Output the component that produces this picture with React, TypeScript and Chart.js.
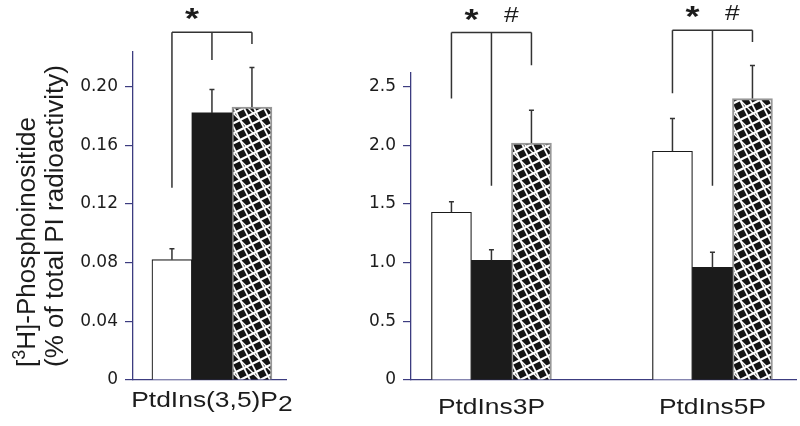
import React, { useEffect, useRef } from "react";
import { Chart, registerables } from "chart.js";

Chart.register(...registerables);

// ---------------- data ----------------
const seriesNames = ["Open bars", "Filled bars", "Hatched bars"];

const leftCategories = ["PtdIns(3,5)P2"];
const leftOpen = [0.082];
const leftOpenErr = [0.0075];
const leftFilled = [0.182];
const leftFilledErr = [0.016];
const leftHatched = [0.186];
const leftHatchedErr = [0.027];
const leftTicks = [0, 0.04, 0.08, 0.12, 0.16, 0.2];
const leftMax = 0.2235;

const rightCategories = ["PtdIns3P", "PtdIns5P"];
const rightOpen = [1.43, 1.95];
const rightOpenErr = [0.09, 0.28];
const rightFilled = [1.02, 0.96];
const rightFilledErr = [0.09, 0.13];
const rightHatched = [2.02, 2.4];
const rightHatchedErr = [0.28, 0.28];
const rightTicks = [0, 0.5, 1, 1.5, 2, 2.5];
const rightMax = 2.617;

// significance brackets (value units): bracket top, leg ends (open, filled, hatched)
const leftBracketTop = [0.237];
const leftBracketLegs = [[0.131, 0.218, 0.229]];
const leftMarks = [["*", ""]];
const rightBracketTop = [2.962, 2.981];
const rightBracketLegs = [
  [2.4, 1.655, 2.683],
  [2.445, 1.655, 2.882],
];
const rightMarks = [
  ["*", "#"],
  ["*", "#"],
];

const yTitleLine1 = ["[", "3", "H]-Phosphoinositide"];
const yTitleLine2 = "(% of total PI radioactivity)";

// ---------------- styling ----------------
const FONT = "'Liberation Sans', Arial, Helvetica, sans-serif";
const AXIS = "#3c3c80";
const INK = "#1c1c1c";
const LINE = "#333333";
const STRETCH = 1.2;

function makeHatch(): CanvasPattern | string {
  const S = 40;
  const c = document.createElement("canvas");
  c.width = S;
  c.height = S;
  const g = c.getContext("2d");
  if (!g) return "#555";
  g.fillStyle = "#141414";
  g.fillRect(0, 0, S, S);
  g.strokeStyle = "#ffffff";
  g.lineCap = "butt";
  // shallow "/" lines: y = k - 0.5x
  g.lineWidth = 2.2;
  for (let k = -40; k <= 120; k += 10) {
    g.beginPath();
    g.moveTo(-10, k + 5);
    g.lineTo(S + 10, k - (S + 10) / 2);
    g.stroke();
  }
  // steep "\" lines: y = k + 2x
  g.lineWidth = 1.8;
  for (let k = -120; k <= 60; k += 20) {
    g.beginPath();
    g.moveTo(-10, k - 20);
    g.lineTo(S + 10, k + 2 * (S + 10));
    g.stroke();
  }
  // "\" 45deg lines: y = k + x
  g.lineWidth = 1.4;
  for (let k = -80; k <= 80; k += 20) {
    g.beginPath();
    g.moveTo(-10, k - 10);
    g.lineTo(S + 10, k + S + 10);
    g.stroke();
  }
  return g.createPattern(c, "repeat") || "#555";
}

type Spec = {
  categories: string[];
  series: { values: number[]; errs: number[] }[];
  ticks: number[];
  yMax: number;
  decimals: number;
  yAxisWidth: number;
  padTop: number;
  padRight: number;
  xMin: number;
  xMax: number;
  labelBaseline: number;
  bracketTop: number[];
  bracketLegs: number[][];
  marks: string[][];
  yTitle: boolean;
};

const leftSpec: Spec = {
  categories: leftCategories,
  series: [
    { values: leftOpen, errs: leftOpenErr },
    { values: leftFilled, errs: leftFilledErr },
    { values: leftHatched, errs: leftHatchedErr },
  ],
  ticks: leftTicks,
  yMax: leftMax,
  decimals: 2,
  yAxisWidth: 133,
  padTop: 52,
  padRight: 14,
  xMin: -0.516,
  xMax: 0.484,
  labelBaseline: 407,
  bracketTop: leftBracketTop,
  bracketLegs: leftBracketLegs,
  marks: leftMarks,
  yTitle: true,
};

const rightSpec: Spec = {
  categories: rightCategories,
  series: [
    { values: rightOpen, errs: rightOpenErr },
    { values: rightFilled, errs: rightFilledErr },
    { values: rightHatched, errs: rightHatchedErr },
  ],
  ticks: rightTicks,
  yMax: rightMax,
  decimals: 1,
  yAxisWidth: 111,
  padTop: 73,
  padRight: 4,
  xMin: -0.364,
  xMax: 1.378,
  labelBaseline: 414,
  bracketTop: rightBracketTop,
  bracketLegs: rightBracketLegs,
  marks: rightMarks,
  yTitle: false,
};

function makePlugin(spec: Spec) {
  return {
    id: "annotations",
    afterDatasetsDraw(chart: any) {
      const ctx = chart.ctx as CanvasRenderingContext2D;
      const y = chart.scales.y;
      ctx.save();
      ctx.strokeStyle = LINE;
      ctx.lineWidth = 1.5;
      spec.series.forEach((s, i) => {
        const meta = chart.getDatasetMeta(i);
        meta.data.forEach((el: any, j: number) => {
          const top = y.getPixelForValue(s.values[j] + s.errs[j]);
          ctx.beginPath();
          ctx.moveTo(el.x, el.y);
          ctx.lineTo(el.x, top);
          ctx.moveTo(el.x - 2.5, top);
          ctx.lineTo(el.x + 2.5, top);
          ctx.stroke();
        });
      });
      ctx.restore();
    },
    afterDraw(chart: any) {
      const ctx = chart.ctx as CanvasRenderingContext2D;
      const x = chart.scales.x;
      const y = chart.scales.y;

      // category labels
      ctx.save();
      ctx.fillStyle = INK;
      ctx.font = `22px ${FONT}`;
      ctx.textBaseline = "alphabetic";
      ctx.textAlign = "left";
      spec.categories.forEach((label, j) => {
        const m = /^(.*P)(\d)$/.exec(label);
        const main = m ? m[1] : label;
        const sub = m ? m[2] : "";
        const w1 = ctx.measureText(main).width;
        const w2 = sub ? ctx.measureText(sub).width : 0;
        ctx.save();
        ctx.translate(x.getPixelForValue(j), spec.labelBaseline);
        ctx.scale(STRETCH, 1);
        const start = -(w1 + w2) / 2;
        ctx.fillText(main, start, 0);
        if (sub) ctx.fillText(sub, start + w1, 4);
        ctx.restore();
      });
      ctx.restore();

      // brackets
      ctx.save();
      ctx.strokeStyle = LINE;
      ctx.lineWidth = 1.5;
      ctx.fillStyle = INK;
      spec.categories.forEach((_, j) => {
        const xs = spec.series.map((__, i) => chart.getDatasetMeta(i).data[j].x);
        const topPx = y.getPixelForValue(spec.bracketTop[j]);
        ctx.beginPath();
        ctx.moveTo(xs[0], topPx);
        ctx.lineTo(xs[xs.length - 1], topPx);
        xs.forEach((xx: number, i: number) => {
          ctx.moveTo(xx, topPx);
          ctx.lineTo(xx, y.getPixelForValue(spec.bracketLegs[j][i]));
        });
        ctx.stroke();
        spec.marks[j].forEach((mark, k) => {
          if (!mark) return;
          ctx.save();
          ctx.font = mark === "*" ? `bold 30px ${FONT}` : `22px ${FONT}`;
          const mm = ctx.measureText(mark);
          const cy = topPx - 18;
          const mx = (xs[k] + xs[k + 1]) / 2;
          ctx.translate(mx, cy + (mm.actualBoundingBoxAscent - mm.actualBoundingBoxDescent) / 2);
          ctx.scale(STRETCH, 1);
          ctx.textAlign = "center";
          ctx.textBaseline = "alphabetic";
          ctx.fillText(mark, 0, 0);
          ctx.restore();
        });
      });
      ctx.restore();

      // y-axis title
      if (spec.yTitle) {
        ctx.save();
        ctx.fillStyle = INK;
        ctx.textAlign = "left";
        ctx.textBaseline = "alphabetic";
        ctx.save();
        ctx.translate(35, 367);
        ctx.rotate(-Math.PI / 2);
        ctx.font = `26px ${FONT}`;
        ctx.fillText(yTitleLine1[0], 0, 0);
        let pos = ctx.measureText(yTitleLine1[0]).width;
        ctx.font = `18px ${FONT}`;
        ctx.fillText(yTitleLine1[1], pos, -10);
        pos += ctx.measureText(yTitleLine1[1]).width;
        ctx.font = `26px ${FONT}`;
        ctx.fillText(yTitleLine1[2], pos, 0);
        ctx.restore();
        ctx.save();
        ctx.translate(63, 367);
        ctx.rotate(-Math.PI / 2);
        ctx.font = `26px ${FONT}`;
        ctx.fillText(yTitleLine2, 0, 0);
        ctx.restore();
        ctx.restore();
      }
    },
  };
}

function buildConfig(spec: Spec, hatch: CanvasPattern | string): any {
  const fills = ["#ffffff", "#1b1b1b", hatch];
  const borders = ["#1a1a1a", "#1b1b1b", "rgba(140,140,140,0.9)"];
  const widths = [1.2, 0, 2];
  return {
    type: "bar",
    data: {
      datasets: spec.series.map((s, i) => ({
        label: seriesNames[i],
        data: s.values.map((v, j) => ({ x: j, y: v })),
        backgroundColor: fills[i],
        borderColor: borders[i],
        borderWidth: widths[i],
        barThickness: 40,
      })),
    },
    options: {
      animation: false,
      responsive: false,
      devicePixelRatio: 1,
      layout: { padding: { left: 0, top: spec.padTop, right: spec.padRight, bottom: 0 } },
      plugins: { legend: { display: false }, tooltip: { enabled: false } },
      scales: {
        x: {
          type: "linear",
          min: spec.xMin,
          max: spec.xMax,
          offset: false,
          grid: { display: false },
          border: { display: true, color: AXIS, width: 1.3 },
          ticks: { display: false },
          afterFit: (s: any) => {
            s.height = 46;
          },
        },
        y: {
          type: "linear",
          min: 0,
          max: spec.yMax,
          afterBuildTicks: (s: any) => {
            s.ticks = spec.ticks.map((v) => ({ value: v }));
          },
          afterFit: (s: any) => {
            s.width = spec.yAxisWidth;
          },
          ticks: {
            callback: (v: number) => (v === 0 ? "0" : Number(v).toFixed(spec.decimals)),
            font: { family: "'DejaVu Sans'", size: 17 },
            color: INK,
            padding: 7,
          },
          grid: {
            drawOnChartArea: false,
            drawTicks: true,
            tickLength: 8,
            color: AXIS,
            lineWidth: 1.2,
          },
          border: { display: true, color: AXIS, width: 1.3 },
        },
      },
    },
    plugins: [makePlugin(spec)],
  };
}

export default function App() {
  const leftRef = useRef<HTMLCanvasElement>(null);
  const rightRef = useRef<HTMLCanvasElement>(null);
  useEffect(() => {
    const hatch = makeHatch();
    const c1 = new Chart(leftRef.current as HTMLCanvasElement, buildConfig(leftSpec, hatch));
    const c2 = new Chart(rightRef.current as HTMLCanvasElement, buildConfig(rightSpec, hatch));
    return () => {
      c1.destroy();
      c2.destroy();
    };
  }, []);
  return (
    <div style={{ position: "fixed", left: 0, top: 0, width: 800, height: 426, background: "#ffffff" }}>
      <canvas ref={leftRef} width={300} height={426} style={{ position: "absolute", left: 0, top: 0 }} />
      <canvas ref={rightRef} width={500} height={426} style={{ position: "absolute", left: 300, top: 0 }} />
    </div>
  );
}
